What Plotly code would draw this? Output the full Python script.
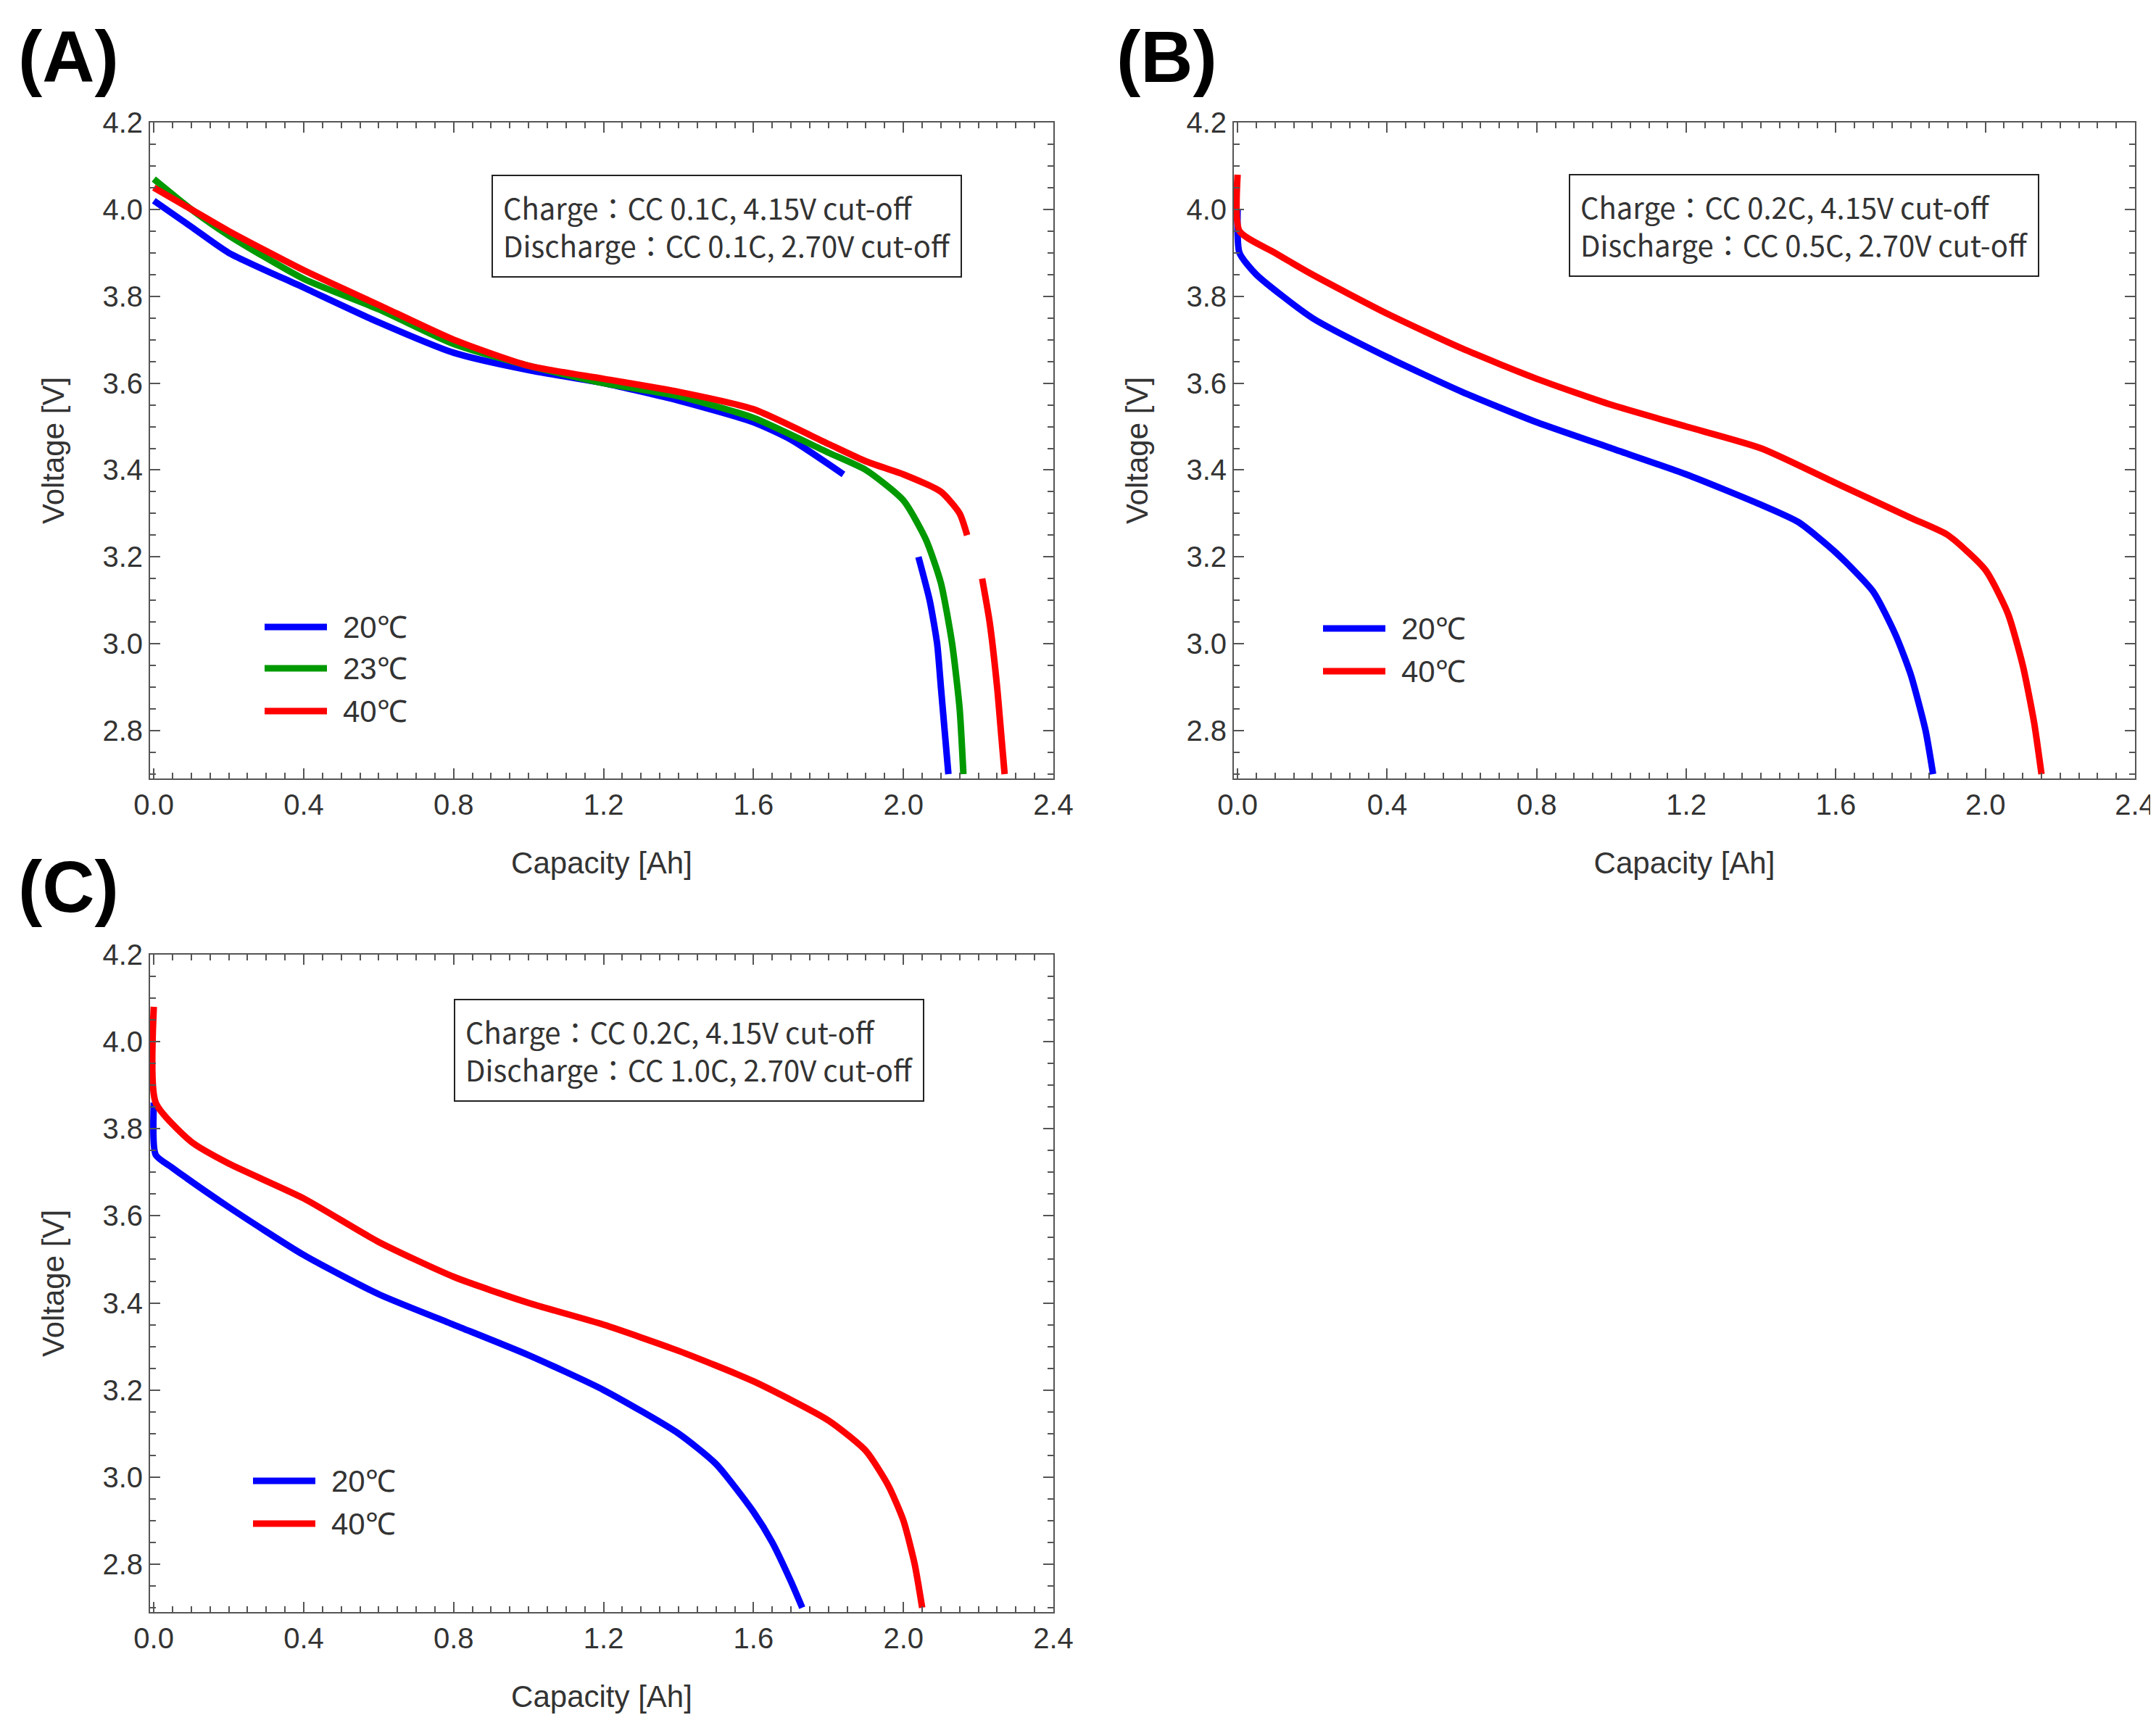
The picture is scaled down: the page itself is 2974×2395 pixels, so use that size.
import plotly.graph_objects as go

W, H = 2974, 2395

# panel A (CC 0.1C discharge)
a20_cap = [0, 0.1, 0.2, 0.4, 0.6, 0.8, 1.0, 1.2, 1.4, 1.6, 1.7, 1.84, None, 2.04, 2.07, 2.09, 2.10, 2.11, 2.12]
a20_v = [4.02, 3.96, 3.9, 3.82, 3.74, 3.67, 3.63, 3.6, 3.56, 3.51, 3.47, 3.39, None, 3.2, 3.1, 3.0, 2.9, 2.8, 2.7]
a23_cap = [0, 0.1, 0.2, 0.4, 0.6, 0.8, 1.0, 1.2, 1.4, 1.6, 1.8, 1.9, 2.0, 2.06, 2.1, 2.13, 2.15, 2.16]
a23_v = [4.07, 4.0, 3.94, 3.84, 3.77, 3.69, 3.64, 3.6, 3.57, 3.52, 3.44, 3.4, 3.33, 3.24, 3.14, 3.0, 2.85, 2.7]
a40_cap = [0, 0.1, 0.2, 0.4, 0.6, 0.8, 1.0, 1.2, 1.4, 1.6, 1.8, 1.9, 2.0, 2.1, 2.15, 2.17, None, 2.21, 2.23, 2.25, 2.26, 2.27]
a40_v = [4.05, 4.0, 3.95, 3.86, 3.78, 3.7, 3.64, 3.61, 3.58, 3.54, 3.46, 3.42, 3.39, 3.35, 3.3, 3.25, None, 3.15, 3.05, 2.9, 2.8, 2.7]

# panel B (CC 0.5C discharge)
b20_cap = [0, 0.005, 0.05, 0.2, 0.4, 0.6, 0.8, 1.0, 1.2, 1.4, 1.5, 1.6, 1.7, 1.76, 1.8, 1.84, 1.86]
b20_v = [4.0, 3.9, 3.85, 3.75, 3.66, 3.58, 3.51, 3.45, 3.39, 3.32, 3.28, 3.21, 3.12, 3.02, 2.93, 2.8, 2.7]
b40_cap = [0, 0.005, 0.1, 0.2, 0.4, 0.6, 0.8, 1.0, 1.2, 1.4, 1.6, 1.8, 1.9, 2.0, 2.06, 2.1, 2.13, 2.15]
b40_v = [4.08, 3.95, 3.9, 3.85, 3.76, 3.68, 3.61, 3.55, 3.5, 3.45, 3.37, 3.29, 3.25, 3.17, 3.07, 2.95, 2.82, 2.7]

# panel C (CC 1.0C discharge)
c20_cap = [0, 0.005, 0.05, 0.2, 0.4, 0.6, 0.8, 1.0, 1.2, 1.4, 1.5, 1.6, 1.65, 1.7, 1.73]
c20_v = [3.86, 3.74, 3.71, 3.62, 3.51, 3.42, 3.35, 3.28, 3.2, 3.1, 3.03, 2.92, 2.85, 2.76, 2.7]
c40_cap = [0, 0.005, 0.1, 0.2, 0.4, 0.6, 0.8, 1.0, 1.2, 1.4, 1.6, 1.8, 1.9, 1.96, 2.0, 2.03, 2.05]
c40_v = [4.08, 3.86, 3.77, 3.72, 3.64, 3.54, 3.46, 3.4, 3.35, 3.29, 3.22, 3.13, 3.06, 2.98, 2.9, 2.8, 2.7]

conditions = [
    "Charge：CC 0.1C, 4.15V cut-off<br>Discharge：CC 0.1C, 2.70V cut-off",
    "Charge：CC 0.2C, 4.15V cut-off<br>Discharge：CC 0.5C, 2.70V cut-off",
    "Charge：CC 0.2C, 4.15V cut-off<br>Discharge：CC 1.0C, 2.70V cut-off",
]
panel_labels = ["(A)", "(B)", "(C)"]

BLUE, GREEN, RED = "#0000ff", "#009900", "#ff0000"


def px(x, y):
    return x / W, 1 - y / H


fig = go.Figure()

panels = [
    ("x", "y", [(a20_cap, a20_v, BLUE, "20℃"), (a23_cap, a23_v, GREEN, "23℃"), (a40_cap, a40_v, RED, "40℃")]),
    ("x2", "y2", [(b20_cap, b20_v, BLUE, "20℃"), (b40_cap, b40_v, RED, "40℃")]),
    ("x3", "y3", [(c20_cap, c20_v, BLUE, "20℃"), (c40_cap, c40_v, RED, "40℃")]),
]
for xa, ya, series in panels:
    for cap, v, col, name in series:
        fig.add_trace(go.Scatter(x=cap, y=v, mode="lines", line=dict(color=col, width=9, shape="spline", smoothing=0.6),
                                 xaxis=xa, yaxis=ya, showlegend=False, connectgaps=False))

# plot areas in pixels: (left, top, right, bottom)
boxes = [(199, 161, 1445, 1066), (1694, 161, 2937, 1066), (199, 1309, 1445, 2216)]
legend_pos = [(357, [857, 914, 973]), (1817, [859, 918]), (341, [2035, 2094])]
cond_pos = [(994, 304), (2480, 303), (943, 1441)]
label_pos = [(15, 70), (1530, 70), (15, 1215)]

axis_common = dict(showline=True, linecolor="#555", linewidth=2, mirror="ticks",
                   ticks="inside", ticklen=14, tickwidth=2, tickcolor="#555",
                   showgrid=False, zeroline=False, automargin=False,
                   tickfont=dict(family="Liberation Sans", size=40, color="#333"),
                   minor=dict(ticks="inside", ticklen=8, tickwidth=2, tickcolor="#555"))

for i, (l, t, r, b) in enumerate(boxes):
    x0, y1 = px(l, t)
    x1, y0 = px(r, b)
    sfx = "" if i == 0 else str(i + 1)
    fig.layout["xaxis" + sfx] = dict(axis_common, domain=[x0, x1], range=[-0.01, 2.4], dtick=0.4,
                                     tickformat=".1f", anchor="y" + sfx,
                                     minor=dict(axis_common["minor"], dtick=0.05),
                                     title=dict(text="Capacity [Ah]", standoff=45,
                                                font=dict(family="Liberation Sans", size=42, color="#333")))
    fig.layout["yaxis" + sfx] = dict(axis_common, domain=[y0, y1], range=[2.69, 4.2], dtick=0.2,
                                     tickformat=".1f", anchor="x" + sfx,
                                     minor=dict(axis_common["minor"], dtick=0.05),
                                     title=dict(text="Voltage [V]", standoff=40,
                                                font=dict(family="Liberation Sans", size=42, color="#333")))

    # hand-drawn legend
    lx, ys = legend_pos[i]
    for (cap, v, col, name), yy in zip(panels[i][2], ys):
        ax0, ay = px(lx, yy)
        ax1, _ = px(lx + 86, yy)
        fig.add_shape(type="line", xref="paper", yref="paper", x0=ax0, x1=ax1, y0=ay, y1=ay,
                      line=dict(color=col, width=9))
        tx, _ = px(lx + 106, yy)
        fig.add_annotation(xref="paper", yref="paper", x=tx, y=ay, text=name, showarrow=False,
                           xanchor="left", yanchor="middle",
                           font=dict(family="Liberation Sans", size=42, color="#333"))

    cx, cy = px(*cond_pos[i])
    fig.add_annotation(xref="paper", yref="paper", x=cx, y=cy, text=conditions[i], showarrow=False,
                       xanchor="center", yanchor="middle",
                       align="left", bordercolor="#222", borderwidth=2, borderpad=14, bgcolor="white",
                       font=dict(family="Noto Sans CJK JP", size=40, color="#333"))

    lbx, lby = px(*label_pos[i])
    fig.add_annotation(xref="paper", yref="paper", x=lbx, y=lby, text="<b>" + panel_labels[i] + "</b>",
                       showarrow=False, xanchor="left", yanchor="middle",
                       font=dict(family="Liberation Sans", size=100, color="black"))

fig.update_layout(width=W, height=H, margin=dict(l=0, r=0, t=0, b=0),
                  plot_bgcolor="white", paper_bgcolor="white")

fig.write_html("out.html")
